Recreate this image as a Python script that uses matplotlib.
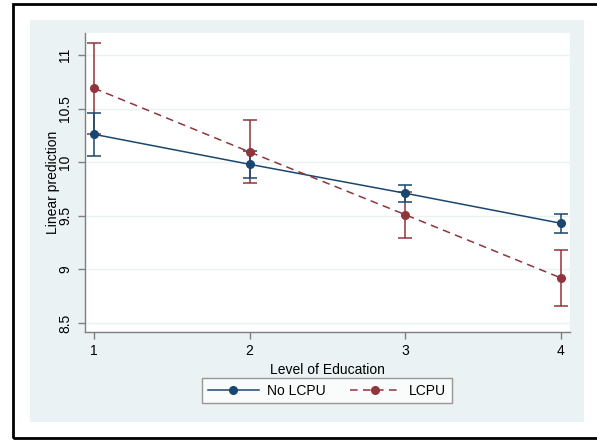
import matplotlib.pyplot as plt
import matplotlib.patches as patches
import numpy as np

plt.rcParams['font.family'] = ['Liberation Sans', 'DejaVu Sans']

levels = [1, 2, 3, 4]
no_lcpu = [10.26, 9.98, 9.71, 9.43]
no_lcpu_lo = [10.06, 9.855, 9.63, 9.335]
no_lcpu_hi = [10.46, 10.105, 9.785, 9.52]
lcpu = [10.69, 10.095, 9.51, 8.92]
lcpu_lo = [10.26, 9.805, 9.295, 8.655]
lcpu_hi = [11.115, 10.39, 9.72, 9.18]
yticks = [8.5, 9, 9.5, 10, 10.5, 11]

navy = '#1a476f'
maroon = '#90353b'
bg = '#eaf2f3'
axcol = '#7f7f7f'

W, H = 597, 440
fig = plt.figure(figsize=(W / 100, H / 100), dpi=100)
fig.patch.set_facecolor('white')

# outer frame and graph region, kept behind the axes
fig.patches.append(patches.Rectangle((13 / W, 1 - 438 / H), 590 / W, 434 / H,
                                     transform=fig.transFigure, fill=False,
                                     edgecolor='black', linewidth=2, zorder=-10))
fig.patches.append(patches.Rectangle((30 / W, 1 - 422 / H), 554 / W, 402 / H,
                                     transform=fig.transFigure, facecolor=bg,
                                     edgecolor='none', zorder=-10))

ax = fig.add_axes([85 / W, 1 - 332 / H, 485 / W, 299 / H])
ax.set_facecolor('white')

x = np.array(levels)
no_err = [np.array(no_lcpu) - np.array(no_lcpu_lo), np.array(no_lcpu_hi) - np.array(no_lcpu)]
lc_err = [np.array(lcpu) - np.array(lcpu_lo), np.array(lcpu_hi) - np.array(lcpu)]

ax.errorbar(x, lcpu, yerr=lc_err, fmt='none', ecolor=maroon, elinewidth=1.1, capsize=5, capthick=1.1, zorder=3)
ax.errorbar(x, no_lcpu, yerr=no_err, fmt='none', ecolor=navy, elinewidth=1.1, capsize=5, capthick=1.1, zorder=3)
ax.plot(x, no_lcpu, color=navy, lw=1.1, marker='o', ms=5.5, label='No LCPU', zorder=4)
ax.plot(x, lcpu, color=maroon, lw=1.1, marker='o', ms=5.5, dashes=(5, 3.5), label='LCPU', zorder=4)

ax.set_xlim(0.942, 4.058)
ax.set_ylim(8.416, 11.205)
ax.set_xticks(levels)
ax.set_yticks(yticks)
ax.set_yticklabels(['8.5', '9', '9.5', '10', '10.5', '11'], rotation=90, va='center')
ax.grid(axis='y', color=bg, lw=1)
ax.set_axisbelow(True)

for s in ['top', 'right']:
    ax.spines[s].set_visible(False)
for s in ['left', 'bottom']:
    ax.spines[s].set_color(axcol)
    ax.spines[s].set_linewidth(1)
ax.tick_params(colors='black', labelsize=10, length=5, width=1, color=axcol)
ax.tick_params(axis='y', pad=4)

ax.set_xlabel('Level of Education', fontsize=10, labelpad=4)
ax.set_ylabel('Linear prediction', fontsize=10, labelpad=-1)

leg = ax.legend(loc='center', bbox_to_anchor=(0.499, -0.196), ncol=2, fontsize=10,
                frameon=True, fancybox=False, handlelength=3.7, columnspacing=1.7,
                handletextpad=0.6, borderpad=0.4, edgecolor=axcol)
leg.get_frame().set_linewidth(1)

fig.savefig('out.png', dpi=100)
